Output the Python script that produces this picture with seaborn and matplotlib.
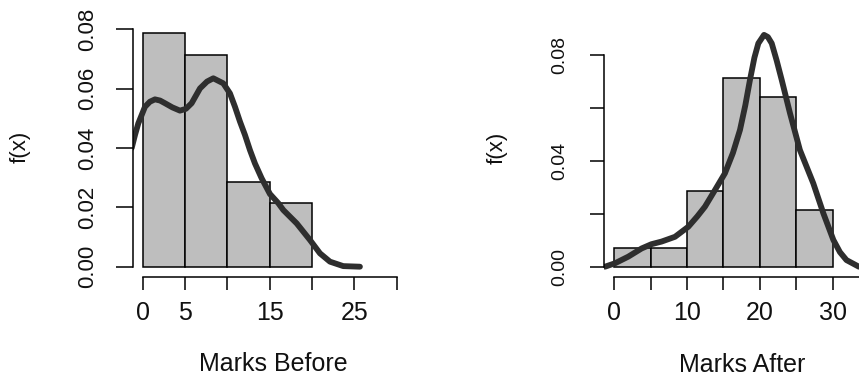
import matplotlib
matplotlib.use("Agg")
import matplotlib.pyplot as plt
import seaborn as sns

# histogram bins (density)
before_edges = [0, 5, 10, 15, 20]
before_density = [0.0786, 0.0714, 0.0286, 0.0214]

after_edges = [0, 5, 10, 15, 20, 25, 30]
after_density = [0.0071, 0.0071, 0.0286, 0.0714, 0.0643, 0.0214]

# density curves
before_kde_x = [-1.30, -0.90, -0.52, 0.27, 0.85, 1.45, 2.05, 2.63, 3.50, 4.40,
                5.10, 5.78, 6.77, 7.60, 8.34, 9.52, 10.31, 10.90, 11.49, 12.08,
                12.67, 13.26, 14.05, 15.03, 16.02, 16.61, 18.19, 19.76, 20.94,
                22.12, 23.69, 25.66]
before_kde_y = [0.0400, 0.0445, 0.0483, 0.0539, 0.0556, 0.0564, 0.0560, 0.0551,
                0.0537, 0.0526, 0.0532, 0.0551, 0.0601, 0.0624, 0.0635, 0.0618,
                0.0584, 0.0539, 0.0489, 0.0444, 0.0393, 0.0348, 0.0298, 0.0245,
                0.0214, 0.0191, 0.0146, 0.0090, 0.0045, 0.0017, 0.0002, 0.0]

after_kde_x = [-1.28, 0.10, 1.92, 3.76, 5.10, 6.50, 8.34, 10.17, 11.40, 12.46,
               13.84, 15.20, 16.30, 17.27, 18.00, 18.64, 19.25, 19.79, 20.57,
               21.10, 21.63, 22.30, 23.00, 24.14, 25.50, 27.34, 28.72, 30.10,
               31.00, 31.90, 33.60]
after_kde_y = [0.0, 0.0013, 0.0038, 0.0069, 0.0085, 0.0095, 0.0113, 0.0151,
               0.0190, 0.0227, 0.0290, 0.0353, 0.0430, 0.0517, 0.0610, 0.0706,
               0.0790, 0.0844, 0.0876, 0.0868, 0.0844, 0.0780, 0.0706, 0.0580,
               0.0441, 0.0315, 0.0202, 0.0101, 0.0055, 0.0025, 0.0]

before_xticks = [0, 5, 10, 15, 20, 25, 30]
before_xlabels = ["0", "5", "", "15", "", "25", ""]
before_yticks = [0.00, 0.02, 0.04, 0.06, 0.08]
before_ylabels = ["0.00", "0.02", "0.04", "0.06", "0.08"]

after_xticks = [0, 5, 10, 15, 20, 25, 30, 35]
after_xlabels = ["0", "", "10", "", "20", "", "30", ""]
after_yticks = [0.00, 0.02, 0.04, 0.06, 0.08]
after_ylabels = ["0.00", "", "0.04", "", "0.08"]

sns.set_theme(style="white")
plt.rcParams["font.family"] = ["Liberation Sans", "DejaVu Sans"]

W, H = 859, 378
fig = plt.figure(figsize=(W / 100, H / 100), dpi=100)
fig.patch.set_facecolor("white")


def px_axes(left, top, width, height):
    return fig.add_axes([left / W, 1 - (top + height) / H, width / W, height / H])


def panel(ax, edges, dens, kx, ky, xlim, ylim, xticks, xlabels, xbound,
          yticks, ylabels, ytick_len, ytick_size, ypad, xlabel, xlab_pos, ylab_pos):
    mids = [(a + b) / 2 for a, b in zip(edges[:-1], edges[1:])]
    sns.histplot(x=mids, weights=dens, bins=edges, stat="count",
                 color="#bebebe", edgecolor="black", linewidth=1.1, alpha=1, ax=ax)
    sns.lineplot(x=kx, y=ky, color="#2e2e2e", linewidth=4.2, sort=False,
                 estimator=None, ax=ax, solid_capstyle="round", solid_joinstyle="round")
    ax.set_xlim(*xlim)
    ax.set_ylim(*ylim)
    sns.despine(ax=ax)
    for s in ("left", "bottom"):
        ax.spines[s].set_color("black")
        ax.spines[s].set_linewidth(1.1)
    ax.spines["left"].set_bounds(0, 0.08)
    ax.spines["bottom"].set_bounds(0, xbound)
    ax.set_xticks(xticks)
    ax.set_xticklabels(xlabels, fontsize=18)
    ax.set_yticks(yticks)
    ax.set_yticklabels(ylabels, fontsize=ytick_size, rotation=90, va="center")
    ax.tick_params(axis="x", length=9.6, width=1.1, color="black", pad=8,
                   bottom=True, labelcolor="#111111")
    ax.tick_params(axis="y", length=ytick_len, width=1.1, color="black", pad=ypad,
                   left=True, labelcolor="#111111")
    ax.set_xlabel(xlabel, fontsize=18, color="#111111")
    ax.xaxis.set_label_coords(xlab_pos[0] / W, 1 - xlab_pos[1] / H, transform=fig.transFigure)
    ax.xaxis.label.set_va("center")
    ax.set_ylabel("f(x)", fontsize=16, color="#111111")
    ax.yaxis.set_label_coords(ylab_pos[0] / W, 1 - ylab_pos[1] / H, transform=fig.transFigure)
    ax.yaxis.label.set_va("center")
    ax.set_facecolor("none")


ax1 = px_axes(133.3, 14.5, 280.3, 262.2)
panel(ax1, before_edges, before_density, before_kde_x, before_kde_y,
      (-1.11, 32.0), (-0.00337, 0.085), before_xticks, before_xlabels, 30,
      before_yticks, before_ylabels, 12, 16, 13, "Marks Before", (273, 364), (20, 147))

ax2 = px_axes(604.3, 15.3, 279.3, 261.4)
panel(ax2, after_edges, after_density, after_kde_x, after_kde_y,
      (-1.374, 37.0), (-0.00378, 0.095), after_xticks, after_xlabels, 35,
      after_yticks, after_ylabels, 10, 14, 16, "Marks After", (742, 365), (497, 148))

fig.savefig("out.png", dpi=100)
